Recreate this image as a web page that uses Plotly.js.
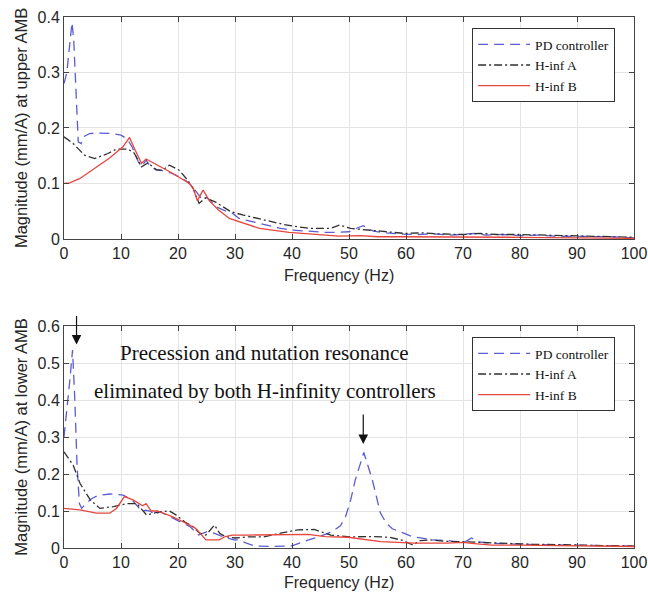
<!DOCTYPE html>
<html>
<head>
<meta charset="utf-8">
<script src="https://cdn.plot.ly/plotly-3.0.1.min.js"></script>
<style>html,body{margin:0;padding:0;background:#fff;}#chart{width:648px;height:599px;}</style>
</head>
<body>
<div id="chart"></div>
<script>
// ---- Upper AMB ----
const upperPD_f = [0,0.5,1.0,1.4,1.7,2.1,2.5,3.0,3.6,4.5,5.9,8.5,10.0,11.1,12.0,13.0,13.6,14.4,15.2,16.2,17.5,19.0,20.0,21.4,22.5,23.7,24.3,25.0,26.0,26.7,28.0,29.6,30.7,33.0,35.4,38.0,40.0,43.0,45.8,48.2,50.0,51.0,52.5,53.5,54.3,56.5,58.9,62,65,68,70,72,74,77,80,83,86,90,93,96,100];
const upperPD_m = [0.28,0.30,0.35,0.39,0.36,0.25,0.175,0.172,0.185,0.19,0.191,0.19,0.187,0.18,0.165,0.14,0.13,0.142,0.13,0.124,0.123,0.118,0.113,0.105,0.095,0.079,0.07,0.075,0.065,0.058,0.052,0.046,0.037,0.031,0.026,0.019,0.016,0.014,0.012,0.012,0.013,0.018,0.024,0.018,0.014,0.011,0.009,0.008,0.009,0.007,0.008,0.01,0.007,0.008,0.006,0.007,0.005,0.005,0.004,0.004,0.002];
const upperA_f = [0,1.6,3.6,5.4,7.7,9.2,11.2,12.3,13.6,14.7,16.2,17.3,18.5,20.2,21.7,22.7,23.7,24.8,26.5,28.0,29.3,31.5,34.0,36.0,38.6,41.0,43.3,46.8,48.3,50.3,53.0,55.6,59.7,63,66,70,73,76,80,84,88,90,94,97,100];
const upperA_m = [0.184,0.172,0.151,0.145,0.154,0.162,0.162,0.155,0.13,0.137,0.125,0.124,0.133,0.124,0.106,0.09,0.064,0.074,0.067,0.058,0.049,0.043,0.037,0.031,0.026,0.022,0.019,0.019,0.025,0.019,0.017,0.014,0.010,0.011,0.009,0.008,0.010,0.008,0.008,0.007,0.007,0.006,0.005,0.004,0.003];
const upperB_f = [0,1.0,2.8,5.1,8.0,10.35,11.5,12.5,13.6,14.4,16.8,19.1,22.0,22.6,23.4,24.4,25.5,27.0,29.0,30.7,34.3,39.5,44.2,48.2,52,55,58.7,65,70,80,90,100];
const upperB_m = [0.1,0.101,0.109,0.125,0.146,0.166,0.183,0.16,0.136,0.144,0.131,0.118,0.1,0.093,0.069,0.088,0.069,0.053,0.037,0.031,0.019,0.012,0.0085,0.005,0.006,0.004,0.004,0.004,0.003,0.003,0.002,0.001];

// ---- Lower AMB ----
const lowerPD_f = [0,0.6,1.0,1.5,1.9,2.3,2.7,3.1,3.8,4.9,6.0,8.1,10.4,11.9,12.8,13.6,14.3,15.1,16.0,16.8,18.0,19.2,20.5,22.1,23.6,25.1,26.3,27.5,29.8,30.7,32,33.6,36.5,40.0,42.9,45,47.0,48.5,49.4,50.3,51.1,52.6,54.1,55.5,56.5,57.6,61.1,64.6,67.5,69,70.5,71.5,72.5,75,80,85,90,95,100];
const lowerPD_m = [0.30,0.38,0.45,0.535,0.40,0.22,0.12,0.107,0.12,0.134,0.142,0.146,0.143,0.13,0.115,0.098,0.102,0.1,0.089,0.098,0.09,0.08,0.07,0.058,0.035,0.044,0.04,0.033,0.022,0.022,0.013,0.005,0.004,0.006,0.022,0.032,0.044,0.06,0.085,0.13,0.184,0.258,0.184,0.095,0.068,0.052,0.031,0.022,0.02,0.015,0.018,0.027,0.017,0.013,0.01,0.009,0.008,0.006,0.005];
const lowerA_f = [0,1.6,2.8,4.6,6.3,8.7,11.0,12.8,14.5,16.8,18.5,19.7,21.2,22.6,23.8,24.9,26.4,27.3,28.3,30,32.4,35,38,41.0,43.9,46.8,50.3,53.8,57.2,59.5,61.2,62.5,64.2,67,70,73,77,82,87,92,96,100];
const lowerA_m = [0.26,0.224,0.175,0.13,0.107,0.112,0.12,0.12,0.089,0.098,0.1,0.089,0.07,0.058,0.04,0.035,0.062,0.04,0.031,0.027,0.03,0.03,0.04,0.049,0.05,0.035,0.03,0.031,0.029,0.02,0.008,0.02,0.022,0.018,0.017,0.015,0.012,0.01,0.009,0.007,0.006,0.005];
const lowerB_f = [0,2.8,5.7,8.0,9.2,10.6,12.1,13.8,14.4,15.3,16.4,19.0,21.4,23.1,24.9,27.2,28.3,29.5,32.4,38.2,42.9,45.8,49.8,55.6,61.4,67.2,70,72,75,80,90,100];
const lowerB_m = [0.107,0.103,0.094,0.094,0.107,0.139,0.13,0.114,0.12,0.1,0.1,0.085,0.067,0.053,0.022,0.022,0.031,0.035,0.035,0.035,0.037,0.031,0.029,0.017,0.013,0.013,0.015,0.012,0.008,0.008,0.006,0.004];

const seriesNames = ['PD controller','H-inf A','H-inf B'];
const xTicks = [0,10,20,30,40,50,60,70,80,90,100];
const upperTicks = [0,0.1,0.2,0.3,0.4];
const lowerTicks = [0,0.1,0.2,0.3,0.4,0.5,0.6];
const xTitle = 'Frequency (Hz)';
const annoLines = ['Precession and nutation resonance','eliminated by both H-infinity controllers'];

const cPD = '#5b5bd2', cA = '#303030', cB = '#e8453c';
const stylePD = {color:cPD, width:1.3, dash:'10px,6px'};
const styleA = {color:cA, width:1.3, dash:'8px,3px,2px,3px'};
const styleB = {color:cB, width:1.3};

const traces = [
  {x:upperPD_f, y:upperPD_m, name:seriesNames[0], mode:'lines', line:stylePD, xaxis:'x', yaxis:'y', legend:'legend'},
  {x:upperA_f, y:upperA_m, name:seriesNames[1], mode:'lines', line:styleA, xaxis:'x', yaxis:'y', legend:'legend'},
  {x:upperB_f, y:upperB_m, name:seriesNames[2], mode:'lines', line:styleB, xaxis:'x', yaxis:'y', legend:'legend'},
  {x:lowerPD_f, y:lowerPD_m, name:seriesNames[0], mode:'lines', line:stylePD, xaxis:'x2', yaxis:'y2', legend:'legend2'},
  {x:lowerA_f, y:lowerA_m, name:seriesNames[1], mode:'lines', line:styleA, xaxis:'x2', yaxis:'y2', legend:'legend2'},
  {x:lowerB_f, y:lowerB_m, name:seriesNames[2], mode:'lines', line:styleB, xaxis:'x2', yaxis:'y2', legend:'legend2'}
];

const tickFont = {family:'Liberation Sans, Arial, sans-serif', size:16, color:'#262626'};
const titleFontX = {family:'Liberation Sans, Arial, sans-serif', size:16, color:'#262626'};
const titleFontY = {family:'Liberation Sans, Arial, sans-serif', size:16.5, color:'#262626'};
const baseX = {range:[0,100], tickvals:xTicks, showgrid:true, gridcolor:'#e4e4e4', zeroline:false,
  showline:true, linecolor:'#444', linewidth:1, mirror:'ticks', ticks:'inside', ticklen:5, tickcolor:'#444',
  tickfont:tickFont, ticklabeloverflow:'allow'};
const baseY = {showgrid:true, gridcolor:'#e4e4e4', zeroline:false,
  showline:true, linecolor:'#444', linewidth:1, mirror:'ticks', ticks:'inside', ticklen:5, tickcolor:'#444',
  tickfont:tickFont};

const legendStyle = {font:{family:'Liberation Serif, Times New Roman, serif', size:13.5, color:'#111'},
  bordercolor:'#333', borderwidth:1, bgcolor:'#fff', xanchor:'left', yanchor:'top', tracegroupgap:0, itemwidth:52};

const layout = {
  width:648, height:599,
  margin:{l:64, r:14, t:17, b:51},
  paper_bgcolor:'#fff', plot_bgcolor:'#fff',
  xaxis:Object.assign({}, baseX, {domain:[0,1], anchor:'y'}),
  yaxis:Object.assign({}, baseY, {domain:[0.582,1], range:[0,0.4], tickvals:upperTicks, ticktext:['0','0.1','0.2','0.3','0.4'], anchor:'x',
    title:{text:'Magnitude (mm/A) at upper AMB', font:titleFontY, standoff:5}}),
  xaxis2:Object.assign({}, baseX, {domain:[0,1], anchor:'y2'}),
  yaxis2:Object.assign({}, baseY, {domain:[0,0.418], range:[0,0.6], tickvals:lowerTicks, ticktext:['0','0.1','0.2','0.3','0.4','0.5','0.6'], anchor:'x2',
    title:{text:'Magnitude (mm/A) at lower AMB', font:titleFontY, standoff:5}}),
  legend:Object.assign({}, legendStyle, {x:0.716, y:0.979}),
  legend2:Object.assign({}, legendStyle, {x:0.716, y:0.397}),
  showlegend:true,
  annotations:[
    {xref:'paper', yref:'paper', x:0.483, y:0.514, xanchor:'center', yanchor:'middle', text:xTitle, showarrow:false, font:titleFontX},
    {xref:'paper', yref:'paper', x:0.483, y:-0.065, xanchor:'center', yanchor:'middle', text:xTitle, showarrow:false, font:titleFontX},
    {xref:'paper', yref:'paper', x:0.352, y:0.367, xanchor:'center', yanchor:'middle', text:annoLines[0], showarrow:false,
      font:{family:'Liberation Serif, Times New Roman, serif', size:21, color:'#111'}},
    {xref:'paper', yref:'paper', x:0.352, y:0.296, xanchor:'center', yanchor:'middle', text:annoLines[1], showarrow:false,
      font:{family:'Liberation Serif, Times New Roman, serif', size:21, color:'#111'}},
    {xref:'x2', yref:'y2', x:2.2, y:0.55, text:'', showarrow:true, arrowhead:2, arrowsize:1.6, arrowwidth:1.2, arrowcolor:'#111', ax:0, ay:-30, standoff:0},
    {xref:'x2', yref:'y2', x:52.5, y:0.281, text:'', showarrow:true, arrowhead:2, arrowsize:1.6, arrowwidth:1.2, arrowcolor:'#111', ax:0, ay:-31, standoff:0}
  ]
};

Plotly.newPlot('chart', traces, layout, {displayModeBar:false, staticPlot:true});
</script>
</body>
</html>
